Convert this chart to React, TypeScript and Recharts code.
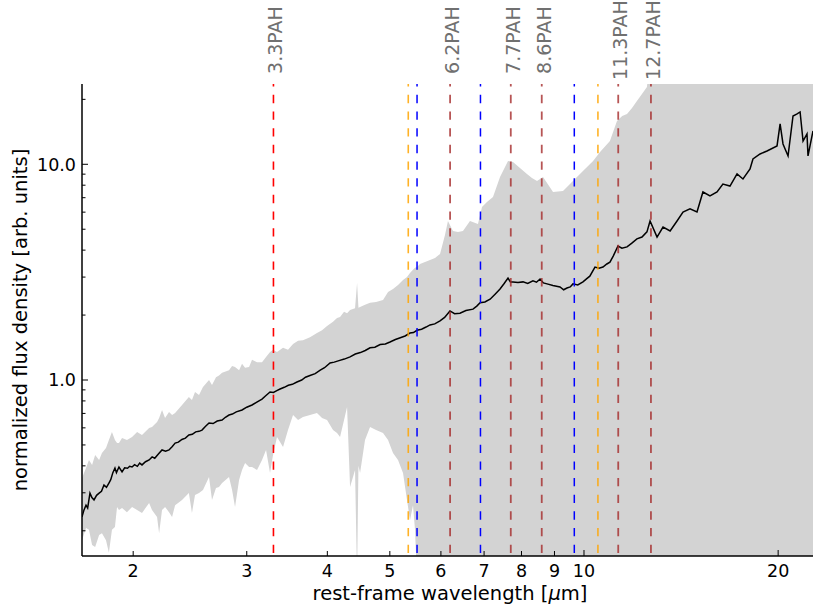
import React from 'react';
import { ComposedChart, Area, Line, XAxis, YAxis, ReferenceLine } from 'recharts';

const xMin = 1.666;
const xMax = 22.65;
const yMin = 0.1528;
const yMax = 23.56;

const bandWavelength = [
  1.666, 1.69, 1.708, 1.727, 1.746, 1.771, 1.789, 1.815, 1.834, 1.854, 1.874, 1.888, 1.901, 1.922, 1.956, 1.992,
  2.028, 2.064, 2.117, 2.139, 2.178, 2.194, 2.217, 2.241, 2.273, 2.298, 2.323, 2.381, 2.44, 2.467, 2.494, 2.53,
  2.566, 2.622, 2.65, 2.688, 2.717, 2.747, 2.816, 2.847, 2.877, 2.919, 2.95, 2.982, 3.025, 3.057, 3.112, 3.168,
  3.214, 3.26, 3.295, 3.342, 3.415, 3.476, 3.539, 3.603, 3.667, 3.76, 3.855, 3.925, 3.996, 4.082, 4.141, 4.186,
  4.246, 4.292, 4.338, 4.416, 4.448, 4.47, 4.496, 4.576, 4.659, 4.76, 4.88, 4.968, 5.057, 5.148, 5.241, 5.316,
  5.373, 5.431, 5.47, 5.509, 5.568, 5.669, 5.771, 5.875, 5.981, 6.088, 6.153, 6.264, 6.377, 6.492, 6.656, 6.849,
  6.948, 7.073, 7.226, 7.41, 7.624, 7.761, 7.957, 8.158, 8.305, 8.456, 8.639, 8.954, 9.278, 9.614, 9.964, 10.33,
  10.59, 10.97, 11.25, 11.46, 11.66, 11.87, 12.08, 12.3, 12.52, 12.75, 22.65,
];

const bandLower = [
  0.181, 0.206, 0.202, 0.172, 0.168, 0.191, 0.195, 0.181, 0.158, 0.202, 0.208, 0.258, 0.25, 0.255, 0.244, 0.258,
  0.25, 0.242, 0.269, 0.25, 0.232, 0.195, 0.25, 0.258, 0.244, 0.232, 0.263, 0.278, 0.299, 0.242, 0.293, 0.299,
  0.309, 0.355, 0.278, 0.316, 0.319, 0.333, 0.355, 0.309, 0.258, 0.344, 0.383, 0.412, 0.395, 0.395, 0.383, 0.426,
  0.474, 0.371, 0.449, 0.544, 0.489, 0.586, 0.688, 0.652, 0.674, 0.688, 0.703, 0.667, 0.652, 0.586, 0.568, 0.544,
  0.652, 0.75, 0.319, 0.383, 0.12, 0.4, 0.371, 0.527, 0.606, 0.586, 0.568, 0.527, 0.459, 0.426, 0.371, 0.278,
  0.224, 0.263, 0.202, 0.12, 0.05, 0.05, 0.05, 0.05, 0.05, 0.05, 0.05, 0.05, 0.05, 0.05, 0.05, 0.05,
  0.05, 0.05, 0.05, 0.05, 0.05, 0.05, 0.05, 0.05, 0.05, 0.05, 0.05, 0.05, 0.05, 0.05, 0.05, 0.05,
  0.05, 0.05, 0.05, 0.05, 0.05, 0.05, 0.05, 0.05, 0.05, 0.05, 0.05,
];

const bandUpper = [
  0.351, 0.391, 0.426, 0.404, 0.449, 0.426, 0.459, 0.484, 0.527, 0.574, 0.527, 0.51, 0.51, 0.538, 0.527, 0.544,
  0.574, 0.556, 0.599, 0.606, 0.639, 0.667, 0.726, 0.667, 0.711, 0.688, 0.703, 0.766, 0.834, 0.808, 0.88, 0.852,
  0.928, 1.0, 0.948, 1.03, 1.05, 1.08, 1.11, 1.16, 1.15, 1.11, 1.19, 1.14, 1.15, 1.24, 1.21, 1.21,
  1.28, 1.35, 1.38, 1.35, 1.41, 1.38, 1.47, 1.52, 1.53, 1.58, 1.65, 1.7, 1.78, 1.86, 1.94, 1.96,
  2.07, 2.04, 2.11, 2.15, 2.82, 2.16, 2.18, 2.23, 2.28, 2.3, 2.35, 2.56, 2.64, 2.76, 2.91, 3.0,
  3.13, 3.24, 3.31, 3.34, 3.45, 3.52, 3.6, 3.68, 3.84, 4.7, 5.46, 4.91, 4.86, 4.91, 5.46, 5.29,
  6.34, 6.69, 7.05, 8.73, 10.36, 10.25, 9.61, 9.02, 8.64, 8.37, 8.73, 7.44, 7.52, 8.37, 9.31, 10.36,
  11.4, 12.82, 15.87, 16.75, 17.11, 18.24, 19.65, 21.18, 22.82, 40, 40,
];

const meanWavelength = [
  1.666, 1.678, 1.69, 1.7, 1.714, 1.726, 1.739, 1.755, 1.771, 1.786, 1.802, 1.818, 1.834, 1.846, 1.86, 1.874,
  1.884, 1.901, 1.922, 1.94, 1.96, 1.975, 1.992, 2.01, 2.03, 2.047, 2.064, 2.09, 2.117, 2.14, 2.16, 2.19,
  2.217, 2.245, 2.273, 2.3, 2.323, 2.35, 2.38, 2.41, 2.44, 2.47, 2.5, 2.53, 2.557, 2.59, 2.622, 2.66,
  2.7, 2.747, 2.78, 2.816, 2.85, 2.89, 2.95, 3.0, 3.057, 3.11, 3.168, 3.21, 3.26, 3.3, 3.34, 3.379,
  3.43, 3.48, 3.53, 3.589, 3.65, 3.7, 3.76, 3.83, 3.9, 3.96, 4.039, 4.1, 4.17, 4.25, 4.338, 4.42,
  4.5, 4.58, 4.659, 4.74, 4.83, 4.92, 5.003, 5.1, 5.19, 5.28, 5.373, 5.44, 5.509, 5.6, 5.69, 5.771,
  5.87, 5.981, 6.08, 6.197, 6.3, 6.423, 6.56, 6.729, 6.82, 6.901, 7.02, 7.152, 7.28, 7.41, 7.52, 7.624,
  7.69, 7.761, 7.9, 8.044, 8.18, 8.334, 8.44, 8.548, 8.65, 8.764, 8.95, 9.179, 9.3, 9.41, 9.52, 9.614,
  9.78, 9.964, 10.1, 10.21, 10.4, 10.55, 10.7, 10.85, 10.97, 11.1, 11.29, 11.45, 11.66, 11.85, 12.08, 12.3,
  12.52, 12.66, 12.98, 13.26, 13.6, 13.94, 14.24, 14.6, 14.97, 15.29, 15.68, 16.08, 16.42, 16.84, 17.27, 17.64,
  18.09, 18.28, 18.75, 19.22, 19.92, 20.14, 20.35, 20.72, 21.09, 21.4, 21.63, 21.86, 22.17, 22.25, 22.65,
];

const meanFlux = [
  0.232, 0.25, 0.263, 0.255, 0.299, 0.285, 0.278, 0.292, 0.299, 0.305, 0.326, 0.318, 0.333, 0.345, 0.372, 0.391,
  0.372, 0.395, 0.375, 0.392, 0.39, 0.398, 0.395, 0.405, 0.398, 0.412, 0.404, 0.418, 0.426, 0.44, 0.434, 0.455,
  0.474, 0.468, 0.474, 0.492, 0.51, 0.515, 0.53, 0.538, 0.556, 0.56, 0.575, 0.578, 0.586, 0.61, 0.632, 0.628,
  0.645, 0.652, 0.672, 0.688, 0.695, 0.712, 0.726, 0.748, 0.766, 0.79, 0.816, 0.845, 0.88, 0.875, 0.892, 0.908,
  0.925, 0.945, 0.955, 0.979, 1.0, 1.03, 1.05, 1.07, 1.11, 1.14, 1.2, 1.21, 1.23, 1.25, 1.28, 1.32,
  1.34, 1.37, 1.41, 1.42, 1.46, 1.47, 1.5, 1.54, 1.57, 1.6, 1.65, 1.66, 1.7, 1.72, 1.76, 1.8,
  1.82, 1.88, 1.95, 2.09, 2.03, 2.04, 2.1, 2.13, 2.2, 2.28, 2.3, 2.37, 2.5, 2.64, 2.8, 2.97,
  2.85, 2.85, 2.83, 2.85, 2.8, 2.88, 2.84, 2.94, 2.82, 2.79, 2.74, 2.7, 2.62, 2.67, 2.7, 2.79,
  2.76, 2.85, 2.95, 3.03, 3.34, 3.3, 3.34, 3.45, 3.52, 3.75, 4.18, 4.08, 4.14, 4.3, 4.51, 4.6,
  4.86, 5.46, 4.6, 5.12, 4.91, 5.46, 6.01, 6.21, 6.01, 7.44, 7.13, 7.44, 8.1, 7.93, 9.02, 8.55,
  9.51, 10.58, 11.16, 11.53, 12.16, 15.38, 12.42, 10.93, 16.75, 17.11, 17.48, 12.82, 13.82, 10.93, 14.27,
];

const xTicks = [2, 3, 4, 5, 6, 7, 8, 9, 10, 20];
const yTicks = [0.2, 0.3, 0.4, 0.5, 0.6, 0.7, 0.8, 0.9, 1, 2, 3, 4, 5, 6, 7, 8, 9, 10, 20];
const yMajorTicks = [1, 10];
const yTickLabels = ['1.0', '10.0'];

const pah33Wavelength = [3.3];
const pah33Labels = ['3.3PAH'];
const pahWavelengths = [6.2, 7.7, 8.6, 11.3, 12.7];
const pahLabels = ['6.2PAH', '7.7PAH', '8.6PAH', '11.3PAH', '12.7PAH'];
const h2Wavelengths = [5.51, 6.91, 9.66];
const ionWavelengths = [5.34, 10.51];

const bandData = bandWavelength.map((w, i) => ({ w, range: [bandLower[i], bandUpper[i]] }));
const meanData = meanWavelength.map((w, i) => ({ w, f: meanFlux[i] }));

const FONT = 'DejaVu Sans, sans-serif';

const XTickBottom = (props: any) => {
  const { x, y, payload } = props;
  const v = payload.value;
  const len = v === 10 || v === 20 ? 6 : 5;
  return (
    <g>
      <line x1={x} x2={x} y1={y} y2={y - len} stroke="#000" strokeWidth={1} />
      <text x={x} y={y + 21} textAnchor="middle" fontSize={17.5} fontFamily={FONT} fill="#000">
        {v}
      </text>
    </g>
  );
};

const XTickTop = (props: any) => {
  const { x, y, payload } = props;
  const v = payload.value;
  const len = v === 10 || v === 20 ? 6 : 5;
  return <line x1={x} x2={x} y1={y} y2={y + len} stroke="#000" strokeWidth={1} />;
};

const YTick = (props: any) => {
  const { x, y, payload } = props;
  const v = payload.value;
  const mi = yMajorTicks.indexOf(v);
  const major = mi >= 0;
  return (
    <g>
      <line x1={x} x2={x + (major ? 6 : 3.5)} y1={y} y2={y} stroke="#000" strokeWidth={1} />
      {major && (
        <text x={x - 6} y={y} dy="0.36em" textAnchor="end" fontSize={17.5} fontFamily={FONT} fill="#000">
          {yTickLabels[mi]}
        </text>
      )}
    </g>
  );
};

const LABEL_Y = 40;

const makeTopLabel = (text: string) => (lp: any) => {
  const vx = lp && lp.viewBox ? lp.viewBox.x : 0;
  return (
    <text
      x={vx}
      y={LABEL_Y}
      dy={9}
      transform={`rotate(-90 ${vx} ${LABEL_Y})`}
      textAnchor="middle"
      fontSize={19}
      fontFamily={FONT}
      fill="#707070"
    >
      {text}
    </text>
  );
};

const DASH = '8.33 8.33';
const DASH_OFFSET = 13.67;

const vline = (w: number, color: string, width: number, key: string, label?: string, opacity = 1) => (
  <ReferenceLine
    key={key}
    segment={[{ x: w, y: yMin }, { x: w, y: yMax }]}
    stroke={color}
    strokeWidth={width}
    strokeOpacity={opacity}
    strokeDasharray={DASH}
    strokeDashoffset={DASH_OFFSET}
    ifOverflow="visible"
    label={label ? makeTopLabel(label) : undefined}
  />
);

export default function App() {
  return (
    <div style={{ position: 'absolute', left: 0, top: 0, width: 813, height: 612, background: '#fff' }}>
      <ComposedChart
        width={813}
        height={612}
        data={bandData}
        margin={{ top: 84, right: 0, bottom: 0, left: 0 }}
        style={{ fontFamily: FONT }}
      >
        <XAxis
          dataKey="w"
          type="number"
          scale="log"
          domain={[xMin, xMax]}
          allowDataOverflow
          ticks={xTicks}
          interval={0}
          tick={XTickBottom}
          tickLine={false}
          tickSize={0}
          tickMargin={0}
          height={56}
          axisLine={{ stroke: '#000', strokeWidth: 1.5 }}
          label={() => (
            <text x={450} y={600} textAnchor="middle" fontSize={19.5} fontFamily={FONT} fill="#000">
              rest-frame wavelength [<tspan fontStyle="italic">μ</tspan>m]
            </text>
          )}
        />
        <XAxis
          xAxisId="top"
          orientation="top"
          dataKey="w"
          type="number"
          scale="log"
          domain={[xMin, xMax]}
          allowDataOverflow
          ticks={xTicks}
          interval={0}
          tick={XTickTop}
          tickLine={false}
          tickSize={0}
          tickMargin={0}
          height={0}
          axisLine={{ stroke: '#000', strokeWidth: 1.5 }}
        />
        <YAxis
          type="number"
          scale="log"
          domain={[yMin, yMax]}
          allowDataOverflow
          ticks={yTicks}
          interval={0}
          tick={YTick}
          tickLine={false}
          tickSize={0}
          tickMargin={0}
          width={82}
          axisLine={{ stroke: '#000', strokeWidth: 1.5 }}
          label={() => (
            <text
              x={27}
              y={320}
              transform="rotate(-90 27 320)"
              textAnchor="middle"
              fontSize={19.5}
              fontFamily={FONT}
              fill="#000"
            >
              normalized flux density [arb. units]
            </text>
          )}
        />
        <Area
          dataKey="range"
          type="linear"
          stroke="none"
          fill="#d3d3d3"
          fillOpacity={1}
          isAnimationActive={false}
          dot={false}
          activeDot={false}
        />
        <Line
          data={meanData}
          dataKey="f"
          type="linear"
          stroke="#000"
          strokeWidth={1.5}
          dot={false}
          activeDot={false}
          isAnimationActive={false}
        />
        {pah33Wavelength.map((w, i) => vline(w, '#ff0000', 1.6, `p33-${i}`, pah33Labels[i]))}
        {ionWavelengths.map((w, i) => vline(w, '#ffa500', 1.6, `ion-${i}`, undefined, 0.85))}
        {h2Wavelengths.map((w, i) => vline(w, '#0000ff', 1.5, `h2-${i}`))}
        {pahWavelengths.map((w, i) => vline(w, '#a52a2a', 1.8, `pah-${i}`, pahLabels[i], 0.8))}
      </ComposedChart>
    </div>
  );
}
